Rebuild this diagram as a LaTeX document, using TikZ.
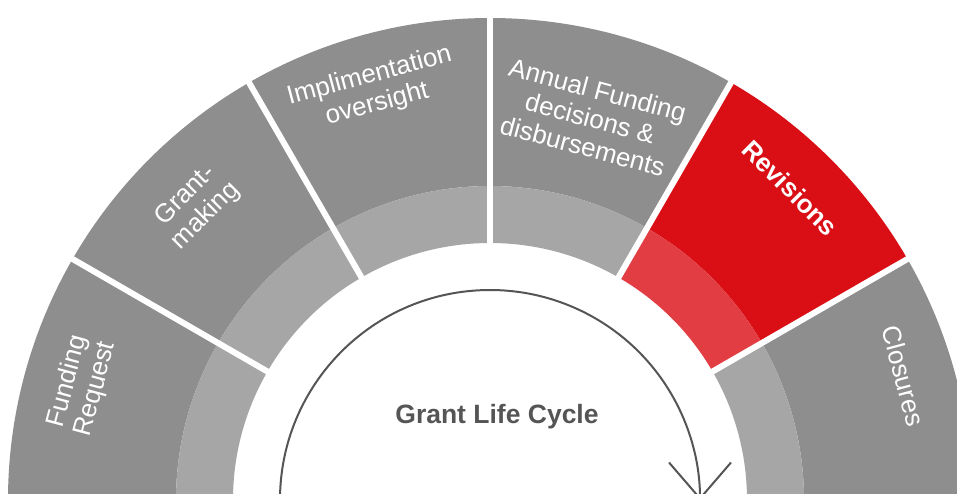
\documentclass[tikz,border=0pt]{standalone}
\usepackage{fontspec}
\setmainfont{Liberation Sans}
\usetikzlibrary{arrows.meta}
\definecolor{outergray}{HTML}{8E8E8E}
\definecolor{innergray}{HTML}{A6A6A6}
\definecolor{redmain}{HTML}{DA0F16}
\definecolor{redlight}{HTML}{E23D43}
\definecolor{darktext}{HTML}{555555}
\begin{document}
\begin{tikzpicture}[x=1pt,y=1pt,
  lbl/.style={text=white,font=\fontsize{26}{29}\selectfont,align=center,inner sep=0pt},
  lblb/.style={lbl,font=\fontsize{26}{29}\selectfont\bfseries},
  gapline/.style={white,line width=6pt},
  cyclearrow/.style={darktext,line width=2pt,-{Straight Barb[length=36pt,width=62pt,line width=2pt]}}]
\useasboundingbox (0,0) rectangle (957,-493);
\clip (0,0) rectangle (957,-493);
\begin{scope}[shift={(490,-500)}]
\coordinate (C) at (0,0);
\foreach \a/\oc/\ic in {0/outergray/innergray,30/redmain/redlight,60/outergray/innergray,90/outergray/innergray,120/outergray/innergray,150/outergray/innergray}{
  \pgfmathsetmacro\b{\a+30}
  \fill[\oc] (\a:314) arc[start angle=\a,end angle=\b,radius=314pt] -- (\b:482) arc[start angle=\b,end angle=\a,radius=482pt] -- cycle;
  \fill[\ic] (\a:257) arc[start angle=\a,end angle=\b,radius=257pt] -- (\b:314) arc[start angle=\b,end angle=\a,radius=314pt] -- cycle;
}
\foreach \a in {30,60,90,120,150}{
  \draw[gapline] (\a:250) -- (\a:490);
}
\coordinate (arrstart) at (183:210);
\draw[cyclearrow] (arrstart) arc[start angle=183,end angle=0,radius=210pt] coordinate (arrend);
\node[lbl,rotate=75] (fr) at (164.3:424) {Funding\\Request};
\node[lbl,rotate=45] (gm) at (135:416) {Grant-\\making};
\node[lbl,rotate=15] (io) at (105.9:426) {Implimentation\\oversight};
\node[lbl,rotate=-15] (af) at (75.3:395) {Annual Funding\\decisions \&\\disbursements};
\node[lblb,rotate=-45] (rv) at (46.1:433) {Revisions};
\node[lbl,rotate=-75] (cl) at (16.7:432) {Closures};
\node[text=darktext,font=\fontsize{26.5}{30}\selectfont\bfseries] (title) at (7,83) {Grant Life Cycle};
\end{scope}
\end{tikzpicture}
\end{document}
